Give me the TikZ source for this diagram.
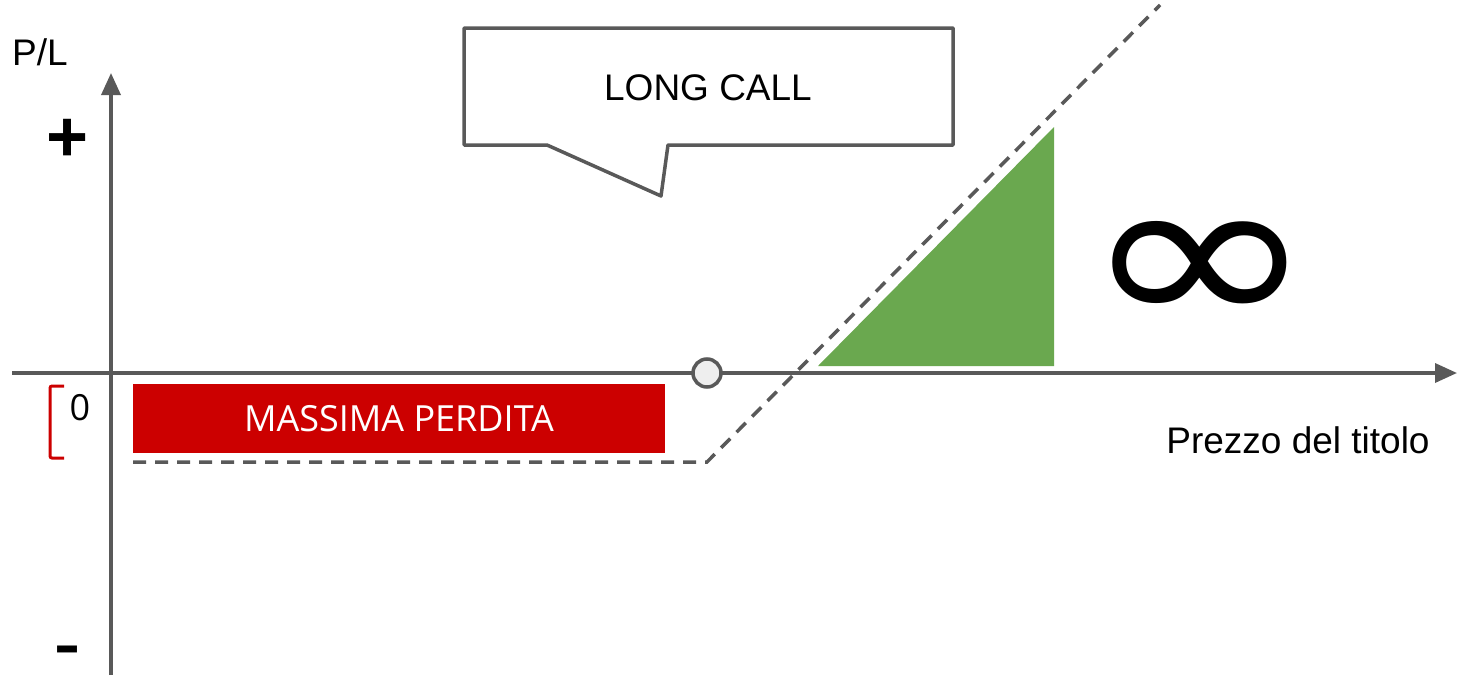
\documentclass[tikz,border=0pt]{standalone}
\usepackage{fontspec}
\setmainfont{Liberation Sans}
\newfontfamily\opensans{Open Sans}
\newfontfamily\dejavu{DejaVu Sans}
\usetikzlibrary{arrows.meta}
\definecolor{achsgrau}{RGB}{89,89,89}
\definecolor{verlustrot}{RGB}{204,0,0}
\definecolor{gewinngruen}{RGB}{106,168,79}
\definecolor{punktgrau}{RGB}{238,238,238}
\tikzset{
	achse/.style={line width=3.5pt, achsgrau, -{Triangle[length=22pt,width=19pt]}},
	kurve/.style={line width=3.5pt, achsgrau, dash pattern=on 13pt off 9pt},
	gross/.style={font=\fontsize{37}{42}\selectfont, inner sep=0pt}
}
\begin{document}
\begin{tikzpicture}[x=1pt, y=-1pt]
		\useasboundingbox (0,0) rectangle (1457,675);
		%achsen
		\coordinate (xa) at (12,373);
		\coordinate (xe) at (1457,373);
		\coordinate (ya) at (111,675);
		\coordinate (ye) at (111,73);
		\draw[achse] (xa) -- (xe);
		\draw[achse] (ya) -- (ye);
		\node[gross] (pl) at (40,52) {P/L};
		\node[gross] (titolo) at (1298,440) {Prezzo del titolo};
		\node[font=\fontsize{72}{80}\selectfont\bfseries, inner sep=0pt] (plus) at (68,140) {+};
		\node[font=\fontsize{58}{60}\selectfont\bfseries, inner sep=0pt, xscale=1.35] (minus) at (68,655) {-};
		%massima perdita
		\node[font=\opensans\fontsize{36}{40}\selectfont, inner sep=0pt] (null) at (80,408) {0};
		\draw[verlustrot, line width=3pt, rounded corners=2pt] (64,386) -- (50,386) -- (50,458) -- (64,458);
		\node[fill=verlustrot, text=white, font=\opensans\fontsize{36}{40}\selectfont, minimum width=532pt, minimum height=69pt, inner sep=0pt] (perdita) at (399,418.5) {MASSIMA PERDITA};
		%gewinn
		\fill[gewinngruen] (818,366) -- (1054,366) -- (1054,127) -- cycle;
		\node[font=\dejavu\fontsize{220}{230}\selectfont, inner sep=0pt, xscale=1.28] (unendlich) at (1200,275) {∞};
		%payoff
		\coordinate (k0) at (133,462);
		\coordinate (strike) at (707,462);
		\coordinate (k1) at (1160,5);
		\draw[kurve] (k0) -- (strike) -- (k1);
		\node[circle, draw=achsgrau, line width=3.5pt, fill=punktgrau, minimum size=28pt, inner sep=0pt] (punkt) at (707,373) {};
		%sprechblase
		\draw[achsgrau, line width=3.5pt, line join=round, fill=white] (464,28) -- (953,28) -- (953,145) -- (668,145) -- (661,196) -- (547,145) -- (464,145) -- cycle;
		\node[font=\fontsize{37}{42}\selectfont, inner sep=0pt] (long) at (708,88) {LONG CALL};
	\end{tikzpicture}
\end{document}
